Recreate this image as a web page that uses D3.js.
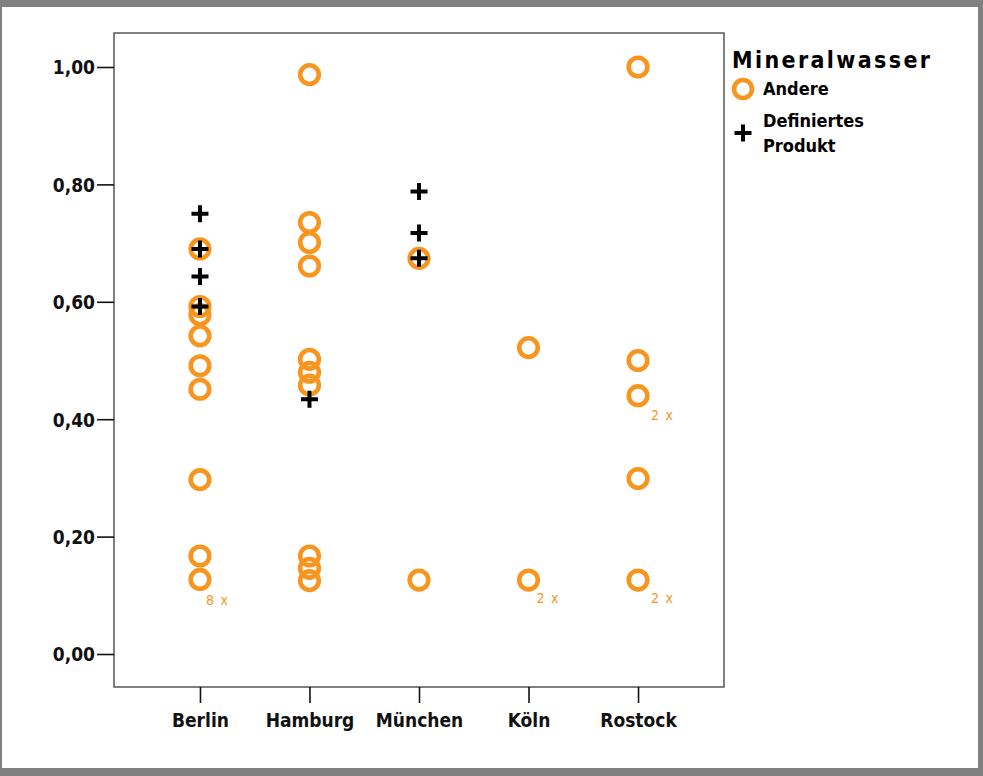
<!DOCTYPE html>
<html>
<head>
<meta charset="utf-8">
<script src="https://cdn.jsdelivr.net/npm/d3@7"></script>
<style>
  html, body { margin: 0; padding: 0; background: #808080; }
  svg { display: block; }
</style>
</head>
<body>
<script>
// ---- Data ----
const cities = ["Berlin", "Hamburg", "München", "Köln", "Rostock"];
const andereBerlin   = [0.690, 0.592, 0.578, 0.542, 0.491, 0.451, 0.297, 0.167, 0.127];
const andereHamburg  = [0.987, 0.735, 0.701, 0.661, 0.502, 0.480, 0.458, 0.167, 0.146, 0.125];
const andereMuenchen = [0.674, 0.126];
const andereKoeln    = [0.522, 0.126];
const andereRostock  = [1.000, 0.500, 0.440, 0.299, 0.126];
const produktBerlin   = [0.750, 0.690, 0.643, 0.592];
const produktHamburg  = [0.434];
const produktMuenchen = [0.788, 0.717, 0.674];
const produktKoeln    = [];
const produktRostock  = [];
const countCities = ["Berlin", "Köln", "Rostock", "Rostock"];
const countValues = [0.127, 0.126, 0.440, 0.126];
const countLabels = ["8 x", "2 x", "2 x", "2 x"];
const yTicks = [0, 0.2, 0.4, 0.6, 0.8, 1.0];
const legendTitle = "Mineralwasser";
const legendLabels = ["Andere", ["Definiertes", "Produkt"]];

const andere = [andereBerlin, andereHamburg, andereMuenchen, andereKoeln, andereRostock];
const produkt = [produktBerlin, produktHamburg, produktMuenchen, produktKoeln, produktRostock];
const andereData = cities.flatMap((c, i) => andere[i].map(v => ({city: c, value: v})));
const produktData = cities.flatMap((c, i) => produkt[i].map(v => ({city: c, value: v})));
const countData = countCities.map((c, i) => ({city: c, value: countValues[i], label: countLabels[i]}));

// ---- Layout ----
const W = 983, H = 776;
const orange = "#f7951f";
const font = "'DejaVu Sans Condensed', 'DejaVu Sans', sans-serif";
const box = {left: 114, right: 724, top: 33, bottom: 687};

const svg = d3.select("body").append("svg").attr("width", W).attr("height", H);
svg.append("rect").attr("x", 0).attr("y", 0).attr("width", W).attr("height", H).attr("fill", "#808080");
svg.append("rect").attr("x", 2).attr("y", 7).attr("width", 976).attr("height", 761).attr("fill", "#ffffff");

const x = d3.scalePoint().domain(cities).range([box.left, box.right]).padding(0.785);
const y = d3.scaleLinear().domain([-0.0562, 1.0579]).range([box.bottom, box.top]);

// plot frame
svg.append("rect")
  .attr("x", box.left).attr("y", box.top)
  .attr("width", box.right - box.left).attr("height", box.bottom - box.top)
  .attr("fill", "none").attr("stroke", "#555").attr("stroke-width", 1.5);

// y axis
const yAxis = d3.axisLeft(y).tickValues(yTicks).tickSize(17).tickPadding(2)
  .tickFormat(d => d3.format(".2f")(d).replace(".", ","));
const gy = svg.append("g").attr("transform", `translate(${box.left},0)`).call(yAxis);
gy.select(".domain").remove();
gy.selectAll(".tick line").attr("stroke", "#111").attr("stroke-width", 1.6);
gy.selectAll(".tick text").attr("font-family", font).attr("font-size", 19)
  .attr("font-weight", "bold").attr("fill", "#111").attr("dy", "0.36em");

// x axis
const xAxis = d3.axisBottom(x).tickSize(16).tickPadding(10);
const gx = svg.append("g").attr("transform", `translate(0,${box.bottom})`).call(xAxis);
gx.select(".domain").remove();
gx.selectAll(".tick line").attr("stroke", "#111").attr("stroke-width", 1.6);
gx.selectAll(".tick text").attr("font-family", font).attr("font-size", 19)
  .attr("font-weight", "bold").attr("fill", "#111").attr("dy", "0.72em");

// circles (Andere)
svg.append("g").selectAll("circle").data(andereData).join("circle")
  .attr("cx", d => x(d.city)).attr("cy", d => y(d.value)).attr("r", 9.3)
  .attr("fill", "none").attr("stroke", orange).attr("stroke-width", 4.6);

// crosses (Definiertes Produkt)
function crossPath(s) {
  return `M${-s},0H${s}M0,${-s}V${s}`;
}
svg.append("g").selectAll("path").data(produktData).join("path")
  .attr("transform", d => `translate(${x(d.city)},${y(d.value)})`)
  .attr("d", crossPath(8.5))
  .attr("stroke", "#000").attr("stroke-width", 4).attr("fill", "none");

// count labels
const labelDx = [6, 8, 13, 13];
const labelDy = [26, 23, 24, 23];
svg.append("g").selectAll("text").data(countData).join("text")
  .attr("x", (d, i) => x(d.city) + labelDx[i]).attr("y", (d, i) => y(d.value) + labelDy[i])
  .attr("font-family", font).attr("font-size", 14).attr("fill", orange)
  .attr("letter-spacing", 1.2)
  .text(d => d.label);

// legend
const lg = svg.append("g");
lg.append("text").attr("x", 732).attr("y", 68).attr("font-family", font)
  .attr("font-size", 23).attr("font-weight", "bold").attr("fill", "#000")
  .attr("textLength", 198).attr("lengthAdjust", "spacing")
  .text(legendTitle);
lg.append("circle").attr("cx", 743).attr("cy", 89).attr("r", 9)
  .attr("fill", "none").attr("stroke", orange).attr("stroke-width", 4.6);
lg.append("text").attr("x", 763).attr("y", 95).attr("font-family", font)
  .attr("font-size", 18).attr("font-weight", "bold").attr("fill", "#000")
  .text(legendLabels[0]);
lg.append("path").attr("transform", "translate(743,133)").attr("d", crossPath(8.5))
  .attr("stroke", "#000").attr("stroke-width", 4).attr("fill", "none");
legendLabels[1].forEach((t, i) => {
  lg.append("text").attr("x", 763).attr("y", 127 + i * 24.5).attr("font-family", font)
    .attr("font-size", 18).attr("font-weight", "bold").attr("fill", "#000").text(t);
});
</script>
</body>
</html>
